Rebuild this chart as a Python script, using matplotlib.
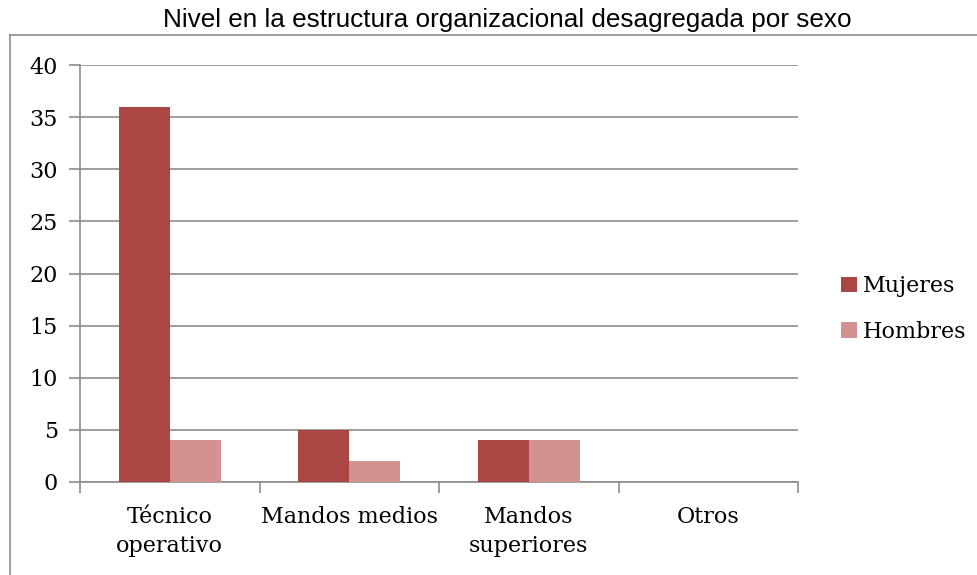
import matplotlib
matplotlib.use("Agg")
import matplotlib.pyplot as plt
import numpy as np
from matplotlib.lines import Line2D

categories = ["Técnico\noperativo", "Mandos medios", "Mandos\nsuperiores", "Otros"]
mujeres = [36, 5, 4, 0]
hombres = [4, 2, 4, 0]
series_names = ["Mujeres", "Hombres"]
yticks = [0, 5, 10, 15, 20, 25, 30, 35, 40]
title = "Nivel en la estructura organizacional desagregada por sexo"

W, H = 978, 575
fig = plt.figure(figsize=(W/100, H/100), dpi=100)
ax = fig.add_axes([80/W, 1-482/H, (798-80)/W, (482-65)/H])

serif = ["DejaVu Serif"]
fs = 16
grid_c = "#8c8c8c"
x = np.arange(len(categories))
bw = 0.285
ax.bar(x - bw/2, mujeres, bw, color="#AA4644", label=series_names[0], zorder=3)
ax.bar(x + bw/2, hombres, bw, color="#D39190", label=series_names[1], zorder=3)

ax.set_xlim(-0.5, len(categories) - 0.5)
ax.set_ylim(0, 40)
ax.set_yticks(yticks)
ax.set_yticklabels([str(v) for v in yticks], fontfamily=serif, fontsize=fs)
ax.yaxis.grid(True, color=grid_c, linewidth=1.2, zorder=0)
ax.tick_params(axis="y", length=8, color=grid_c, width=1.2, pad=8)

ax.set_xticks(np.arange(len(categories) + 1) - 0.5, minor=False)
ax.set_xticklabels([])
ax.set_xticks(x, minor=True)
ax.set_xticklabels(categories, minor=True, fontfamily=serif, fontsize=fs, linespacing=1.45, va="top")
ax.tick_params(axis="x", which="major", length=8, color=grid_c, width=1.2)
ax.tick_params(axis="x", which="minor", length=0, pad=17)

for s in ["top", "right"]:
    ax.spines[s].set_visible(False)
for s in ["left", "bottom"]:
    ax.spines[s].set_color(grid_c)
    ax.spines[s].set_linewidth(1.2)

leg = fig.legend(loc="center left", bbox_to_anchor=(821/W, 1-309/H), frameon=False,
                 prop={"family": serif, "size": fs}, handlelength=0.7, handleheight=0.7,
                 handletextpad=0.3, labelspacing=1.05)

fig.text(507/W, 1-20/H, title, ha="center", va="center", fontfamily="Liberation Sans", fontsize=18.8)

fig.add_artist(Line2D([10/W, 10/W], [0, 1-35/H], color="#8c8c8c", linewidth=1.2))
fig.add_artist(Line2D([10/W, 1], [1-35/H, 1-35/H], color="#8c8c8c", linewidth=1.2))

fig.savefig("out.png", dpi=100)
